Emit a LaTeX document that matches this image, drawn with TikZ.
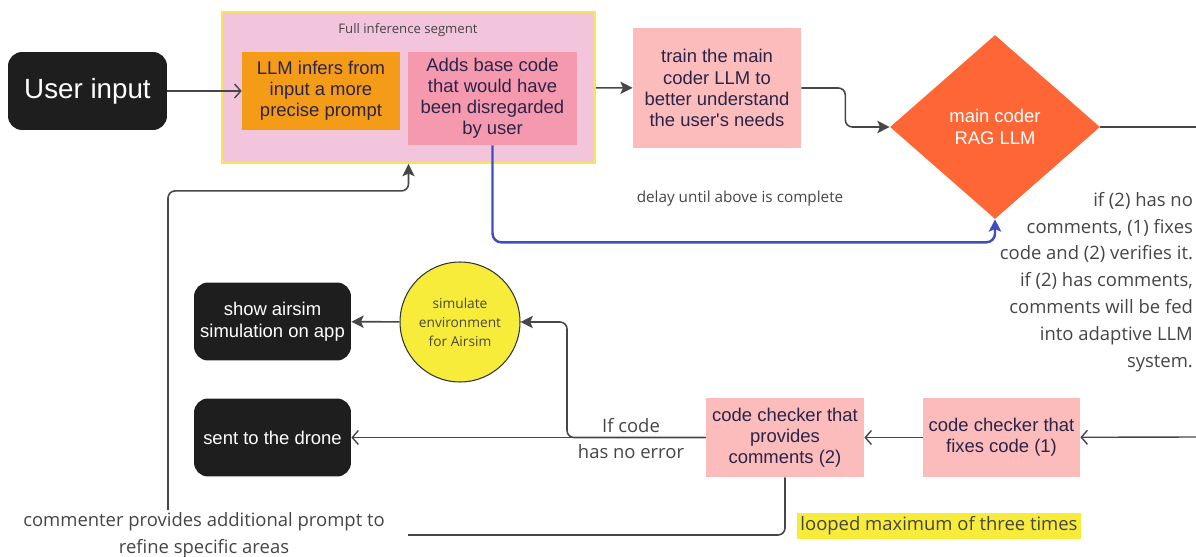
\documentclass[tikz,border=0pt]{standalone}
\usepackage{fontspec}
\setmainfont{Liberation Sans}
\newfontfamily\notefont{Open Sans}
\usepackage{xcolor}
\usetikzlibrary{positioning, arrows.meta, shapes.geometric}
\definecolor{cInk}{HTML}{2B2448}
\definecolor{cLine}{HTML}{474747}
\definecolor{cNote}{HTML}{454545}
\definecolor{cBlack}{HTML}{1E1E1E}
\definecolor{cSeg}{HTML}{F3C5DD}
\definecolor{cSegRim}{HTML}{FBE45A}
\definecolor{cOrange}{HTML}{F49B17}
\definecolor{cRose}{HTML}{F599AE}
\definecolor{cSalmon}{HTML}{FBBCBB}
\definecolor{cCoder}{HTML}{FE6636}
\definecolor{cBlue}{HTML}{3E4DC0}
\definecolor{cSun}{HTML}{F8EC3B}
\definecolor{cOlive}{HTML}{4A4A3A}

\begin{document}
\begin{tikzpicture}[x=0.02cm, y=-0.02cm,
      box/.style={fill=cSalmon, text=cInk, align=center, inner sep=2pt,
                  minimum width=3.16cm, minimum height=1.58cm,
                  font=\fontsize{10.5}{12}\selectfont},
      term/.style={fill=cBlack, text=white, rounded corners=8pt, align=center,
                   minimum width=3.14cm, minimum height=1.56cm,
                   font=\fontsize{10.5}{12.3}\selectfont},
      note/.style={text=cNote, align=center, inner sep=1pt,
                   font=\notefont\fontsize{10.5}{15.3}\selectfont},
      arr/.style={-{Stealth[length=7pt, width=7pt, inset=1.5pt]}, line width=0.9pt, cLine},
      arro/.style={-{Straight Barb[length=3.5pt, width=8pt]}, line width=0.8pt, cLine}
    ]
    \useasboundingbox (0,0) rectangle (1196,557);
    % inference segment
    \node[box, fill=cSeg, draw=cSegRim, line width=1.1pt, minimum width=7.46cm, minimum height=3.02cm] (seg) at (408.5,87.5) {};
    \node[note, font=\notefont\fontsize{7.5}{9}\selectfont] (seglbl) at (408,30) {Full inference segment};
    \node[term, font=\fontsize{15.8}{18}\selectfont, minimum width=3.18cm] (user) at (87.5,91) {User input};
    \node[box, fill=cOrange, minimum height=1.56cm] (infer) at (321,91) {LLM infers from\\input a more\\precise prompt};
    \node[box, fill=cRose, minimum width=3.38cm, minimum height=1.86cm] (base) at (492.5,98.5) {Adds base code\\that would have\\been disregarded\\by user};
    \node[box, minimum width=3.36cm, minimum height=2.4cm] (train) at (717,88) {train the main\\coder LLM to\\better understand\\the user\textquotesingle s needs};
    \node[diamond, fill=cCoder, text=white, aspect=1.14, inner sep=0pt, align=center,
          minimum width=4.2cm, minimum height=3.68cm, font=\fontsize{10.5}{12.3}\selectfont] (coder) at (995,127) {main coder\\RAG LLM};
    \node[note, font=\notefont\fontsize{8.7}{10}\selectfont] (delay) at (740,199) {delay until above is complete};
    \node[note, align=right, anchor=east] (rule) at (1195,282) {if (2) has no\\comments, (1) fixes\\code and (2) verifies it.\\if (2) has comments,\\comments will be fed\\into adaptive LLM\\system.};
    % outputs
    \node[term] (show) at (272.5,321.5) {show airsim\\simulation on app};
    \node[circle, fill=cSun, draw=black!80, line width=0.6pt, minimum size=2.4cm, inner sep=0pt,
          align=center, text=cOlive, font=\notefont\fontsize{7.8}{10.8}\selectfont] (sim) at (460,322) {simulate\\environment\\for Airsim};
    \node[term] (drone) at (272.5,437.5) {sent to the drone};
    % checkers
    \node[box] (chk2) at (785,437.5) {code checker that\\provides\\comments (2)};
    \node[box, minimum width=3.14cm] (chk1) at (1001.5,437.5) {code checker that\\fixes code (1)};
    \node[note] (nerr) at (631,438.5) {If code\\has no error};
    \node[note, fill=cSun, inner sep=2pt] (loop) at (939,526) {looped maximum of three times};
    \node[note] (comment) at (204,535) {commenter provides additional prompt to\\refine specific areas};
    \coordinate (outR) at (1196,127);
    \coordinate (inR) at (1196,437);
    \coordinate (bend) at (567,322);
    \coordinate (loopend) at (408,535);
    % connectors
    \draw[arro] (user) -- (infer);
    \draw[arr] (seg) -- (train);
    \draw[arr, rounded corners=4pt] (train.east) -- ++(44,0) |- (coder.west);
    \draw[cLine, line width=0.9pt] (coder.east) -- (coder.east -| outR);
    \draw[arr, cBlue, line width=1.4pt, rounded corners=5pt] (base.south) |- ([yshift=-0.46cm]coder.south) -- (coder.south);
    \draw[arro] (inR) -- (chk1);
    \draw[arro] (chk1) -- (chk2);
    \draw[arro] (chk2) -- (drone);
    \draw[arr, rounded corners=4pt] (chk2.west) -| (bend) -- (sim.east);
    \draw[arr] (sim) -- (show);
    \draw[cLine, line width=0.9pt, rounded corners=4pt] (chk2.south) |- (loopend);
    \draw[arr, rounded corners=4pt] ([xshift=-0.72cm]comment.north) |- ([yshift=-0.54cm]seg.south) -- (seg.south);
  \end{tikzpicture}
\end{document}
